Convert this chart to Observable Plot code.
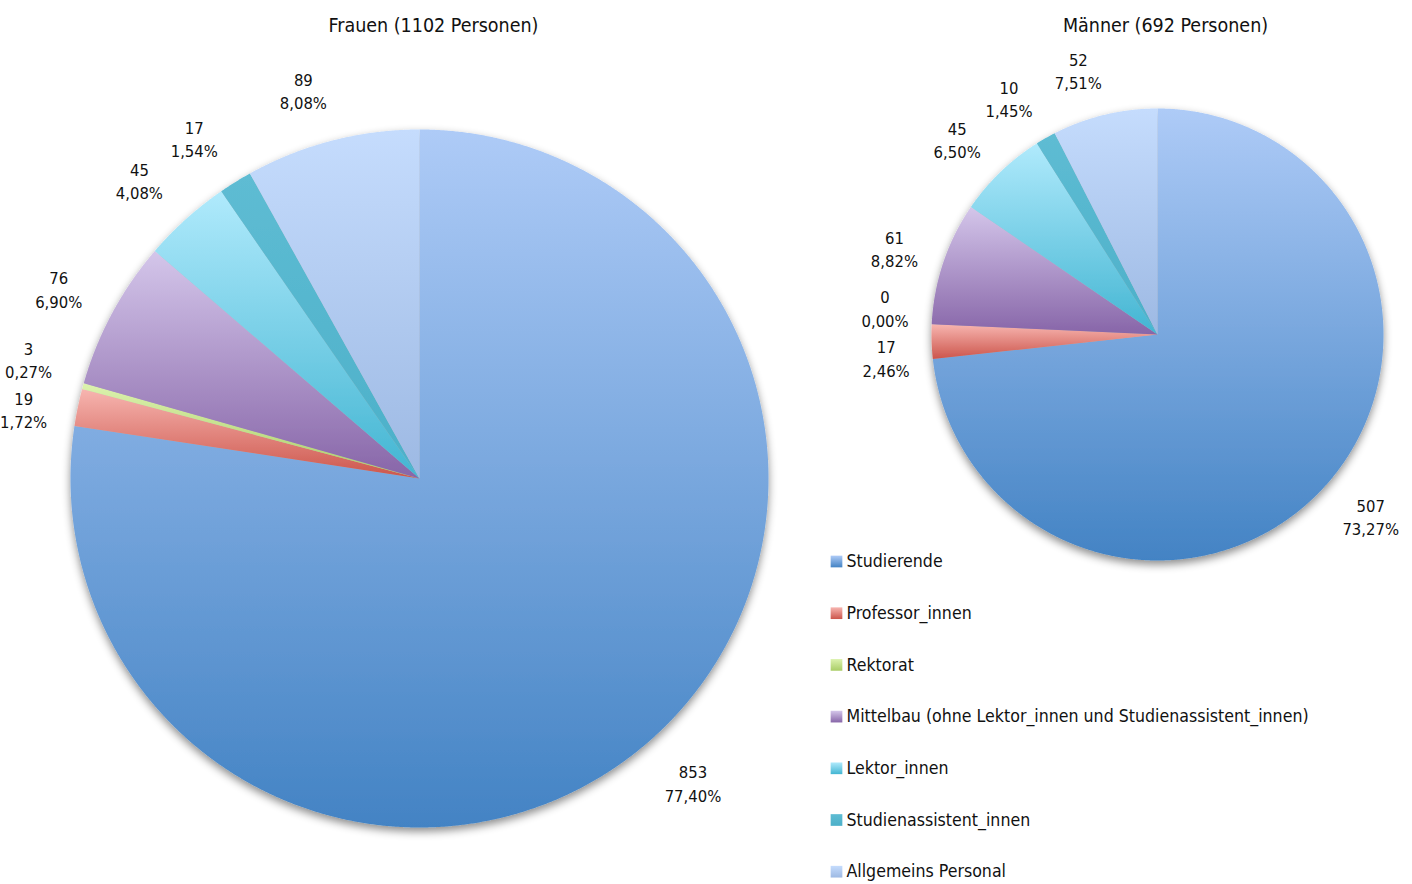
<!DOCTYPE html>
<html>
<head>
<meta charset="utf-8">
<script src="https://cdn.jsdelivr.net/npm/d3@7"></script>
<script src="https://cdn.jsdelivr.net/npm/@observablehq/plot@0.6"></script>
<style>
  html, body { margin: 0; padding: 0; background: #fff; }
</style>
</head>
<body>
<div id="chart"></div>
<script>
// ---- Data ----
const categories = [
  "Studierende",
  "Professor_innen",
  "Rektorat",
  "Mittelbau (ohne Lektor_innen und Studienassistent_innen)",
  "Lektor_innen",
  "Studienassistent_innen",
  "Allgemeins Personal"
];
const frauen = [853, 19, 3, 76, 45, 17, 89];
const maenner = [507, 17, 0, 61, 45, 10, 52];
const titles = ["Frauen (1102 Personen)", "Männer (692 Personen)"];

// ---- Styles ----
const colorTop    = ["#aecbf7", "#f7b5b0", "#dcf2ae", "#d4c6ea", "#b0eafc", "#5ebcd3", "#c5dcfd"];
const colorBottom = ["#4383c4", "#cc554b", "#a9cd66", "#8765a8", "#42b5d2", "#4cb0c9", "#9db9e3"];
const FONT = "'DejaVu Sans Condensed', 'Liberation Sans Narrow', 'DejaVu Sans', sans-serif";

const W = 1412, H = 884;
const pies = [
  {values: frauen,  title: titles[0], cx: 419,  cy: 478, r: 349, gap: 52, titleX: 433},
  {values: maenner, title: titles[1], cx: 1157, cy: 334, r: 226, gap: 46, titleX: 1165}
];
const labelSkew = 16; // horizontal nudge of labels, as in the original layout

// ---- Geometry from data ----
const polys = [];
const labels = [];
const fmt = v => v.toFixed(2).replace(".", ",") + "%";
pies.forEach((p, pi) => {
  const total = d3.sum(p.values);
  const arcs = d3.pie().sort(null).value(d => d)(p.values);
  const pieLabels = [];
  arcs.forEach((a, i) => {
    if (a.endAngle > a.startAngle) {
      const n = Math.max(2, Math.ceil((a.endAngle - a.startAngle) / (Math.PI / 720)));
      const id = pi + "-" + i;
      polys.push({id, i, x: p.cx, y: p.cy});
      for (let k = 0; k <= n; k++) {
        const t = a.startAngle + (a.endAngle - a.startAngle) * k / n;
        polys.push({id, i, x: p.cx + p.r * Math.sin(t), y: p.cy - p.r * Math.cos(t)});
      }
      polys.push({id, i, x: p.cx, y: p.cy});
    }
    const m = (a.startAngle + a.endAngle) / 2;
    const R = p.r + p.gap;
    pieLabels.push({
      x: p.cx + R * Math.sin(m) - labelSkew * Math.cos(m),
      y: p.cy - R * Math.cos(m),
      text: p.values[i] + "\n" + fmt(p.values[i] / total * 100)
    });
  });
  // simple collision avoidance: push apart vertically labels that overlap horizontally
  const minSep = 50, minDx = 40;
  for (let it = 0; it < 60; it++) {
    for (let a = 0; a < pieLabels.length; a++) {
      for (let b = a + 1; b < pieLabels.length; b++) {
        const A = pieLabels[a], B = pieLabels[b];
        if (Math.abs(A.x - B.x) >= minDx) continue;
        const dy = B.y - A.y;
        if (Math.abs(dy) < minSep) {
          const d = (minSep - Math.abs(dy)) / 2 * (dy >= 0 ? 1 : -1);
          A.y -= d; B.y += d;
        }
      }
    }
  }
  labels.push(...pieLabels);
});

const legend = categories.map((c, i) => ({c, i}));

const plot = Plot.plot({
  width: W,
  height: H,
  margin: 0,
  x: {domain: [0, W], range: [0, W], axis: null},
  y: {domain: [0, H], range: [0, H], axis: null},
  color: {type: "identity"},
  style: {fontFamily: FONT, background: "#fff", color: "#111"},
  marks: [
    Plot.line(polys, {
      x: "x", y: "y", z: "id",
      fill: d => `url(#grad${d.i})`,
      stroke: "none",
      curve: "linear"
    }),
    Plot.text(labels, {
      x: "x", y: "y", text: "text",
      fontSize: 16.5, lineHeight: 1.4, textAnchor: "middle", fill: "#111"
    }),
    Plot.text(pies, {
      x: "titleX", y: () => 25, text: "title",
      fontSize: 19.5, textAnchor: "middle", fill: "#111"
    }),
    Plot.dot(legend, {
      x: () => 836, y: d => 561 + d.i * 51.7,
      symbol: "square", r: 6.6,
      fill: d => `url(#grad${d.i})`, stroke: "none"
    }),
    Plot.text(legend, {
      x: () => 846, y: d => 561 + d.i * 51.7, text: "c",
      fontSize: 17.6, textAnchor: "start", fill: "#111"
    })
  ]
});

// gradient + shadow definitions
const svg = d3.select(plot);
const defs = svg.insert("defs", ":first-child");
categories.forEach((c, i) => {
  const g = defs.append("linearGradient")
    .attr("id", "grad" + i)
    .attr("x1", 0).attr("y1", 0).attr("x2", 0).attr("y2", 1);
  g.append("stop").attr("offset", "0%").attr("stop-color", colorTop[i]);
  g.append("stop").attr("offset", "100%").attr("stop-color", colorBottom[i]);
});
const f = defs.append("filter").attr("id", "shadow")
  .attr("x", "-10%").attr("y", "-10%").attr("width", "120%").attr("height", "125%");
f.append("feDropShadow").attr("dx", 0).attr("dy", 4).attr("stdDeviation", 4)
  .attr("flood-color", "#000").attr("flood-opacity", 0.45);
svg.select("g[aria-label='line']").attr("filter", "url(#shadow)");

document.getElementById("chart").appendChild(plot);
</script>
</body>
</html>
